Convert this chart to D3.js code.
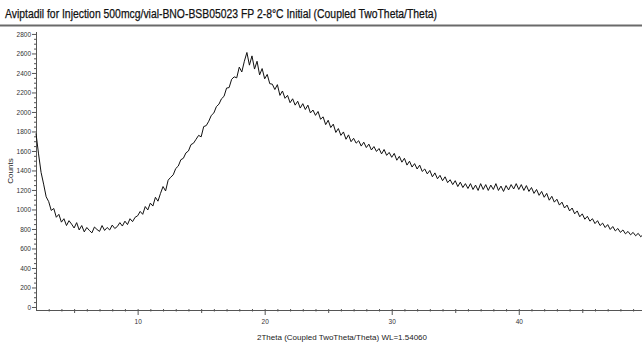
<!DOCTYPE html>
<html>
<head>
<meta charset="utf-8">
<script src="https://cdn.jsdelivr.net/npm/d3@7"></script>
<style>
  body { margin: 0; background: #fff; }
  svg { display: block; font-family: "Liberation Sans", Arial, sans-serif; }
</style>
</head>
<body>
<div id="chart"></div>
<script>
// scan settings (2theta, degrees)
const startAngle = 2.0;
const stepAngle = 0.2;

// counts, one every 0.2 deg from 2.0
const counts = [
  1780, 1570, 1380, 1260, 1130, 1080, 990, 1010, 920, 950,
  870, 905, 835, 885, 850, 810, 865, 790, 835, 770,
  815, 785, 760, 820, 795, 775, 835, 785, 815, 790,
  840, 805, 825, 865, 830, 880, 845, 905, 875, 920,
  935, 980, 950, 1030, 995, 1065, 1035, 1125, 1085, 1165,
  1235, 1190, 1300, 1330, 1355, 1420, 1445, 1510, 1525, 1580,
  1600, 1665, 1680, 1720, 1760, 1745, 1850, 1860, 1905, 1965,
  1990, 2055, 2080, 2135, 2160, 2245, 2250, 2335, 2360, 2350,
  2460, 2410, 2520, 2610, 2480, 2575, 2440, 2520, 2380, 2445,
  2340, 2385, 2290, 2285, 2230, 2280, 2170, 2215, 2140, 2170,
  2095, 2135, 2070, 2110, 2040, 2085, 2025, 2070, 1990, 2020,
  1965, 2005, 1925, 1950, 1870, 1915, 1840, 1875, 1790, 1830,
  1760, 1795, 1720, 1765, 1695, 1730, 1680, 1705, 1650, 1690,
  1635, 1670, 1610, 1645, 1595, 1625, 1570, 1615, 1555, 1585,
  1535, 1575, 1505, 1545, 1485, 1525, 1455, 1495, 1435, 1470,
  1415, 1455, 1390, 1415, 1365, 1400, 1335, 1375, 1315, 1350,
  1295, 1335, 1275, 1305, 1255, 1295, 1235, 1280, 1225, 1265,
  1215, 1265, 1205, 1250, 1195, 1265, 1205, 1255, 1195, 1250,
  1205, 1265, 1195, 1240, 1185, 1245, 1200, 1255, 1210, 1265,
  1205, 1255, 1195, 1245, 1185, 1225, 1165, 1205, 1145, 1185,
  1125, 1165, 1095, 1135, 1075, 1105, 1045, 1075, 1015, 1045,
  985, 1015, 955, 985, 925, 955, 900, 930, 880, 905,
  855, 885, 835, 860, 815, 845, 795, 825, 780, 805,
  765, 790, 750, 775, 740, 765, 730, 755, 720, 745,
  715
];

const xTickLabels = [10, 20, 30, 40];
const yTickLabels = [0, 200, 400, 600, 800, 1000, 1200, 1400, 1600, 1800, 2000, 2200, 2400, 2600, 2800];

const title = "Aviptadil for Injection 500mcg/vial-BNO-BSB05023 FP 2-8\u00B0C Initial (Coupled TwoTheta/Theta)";
const xTitle = "2Theta (Coupled TwoTheta/Theta) WL=1.54060";
const yTitle = "Counts";

const W = 642, H = 345;
const plot = { left: 36, right: 642, top: 32, bottom: 310 };

const svg = d3.select("#chart").append("svg")
    .attr("width", W)
    .attr("height", H);

// header
svg.append("text")
    .attr("x", 5)
    .attr("y", 18)
    .attr("font-size", 12.5)
    .attr("fill", "#111")
    .attr("stroke", "#111")
    .attr("stroke-width", 0.25)
    .attr("textLength", 432)
    .attr("lengthAdjust", "spacingAndGlyphs")
    .text(title);

svg.append("line")
    .attr("x1", 0).attr("x2", W)
    .attr("y1", 25.5).attr("y2", 25.5)
    .attr("stroke", "#6a6a6a")
    .attr("stroke-width", 1.8);

const x = d3.scaleLinear()
    .domain([startAngle, 49.7])
    .range([plot.left, plot.right]);

const y = d3.scaleLinear()
    .domain([-31, 2820])
    .range([plot.bottom, plot.top]);

// X axis - minor ticks every degree, medium every 5, labels every 10
const xAxisG = svg.append("g")
    .attr("transform", `translate(0, ${plot.bottom})`);
xAxisG.call(d3.axisBottom(x)
        .tickValues(d3.range(3, 50, 1))
        .tickSize(2)
        .tickFormat(""));
xAxisG.call(g => g.selectAll(".tick line")
    .attr("y1", -1)
    .attr("y2", d => d % 10 === 0 ? 5 : (d % 5 === 0 ? 3 : 1.5)));
xAxisG.select(".domain").attr("d", `M${plot.left},0.5H${plot.right}`);
xAxisG.selectAll("path, line").attr("stroke", "#555");

const xLabels = svg.append("g")
    .attr("transform", `translate(0, ${plot.bottom})`)
    .call(d3.axisBottom(x).tickValues(xTickLabels).tickSize(0).tickPadding(9).tickFormat(d3.format("d")));
xLabels.select(".domain").remove();
xLabels.selectAll("text").attr("font-size", 6.5).attr("fill", "#333").attr("font-family", "Liberation Sans, Arial");

// Y axis - minor ticks every 50, labels every 200
const yAxisG = svg.append("g")
    .attr("transform", `translate(${plot.left}, 0)`);
yAxisG.call(d3.axisLeft(y)
        .tickValues(d3.range(0, 2801, 50))
        .tickSize(2)
        .tickFormat(""));
yAxisG.call(g => g.selectAll(".tick line")
    .attr("x2", d => d % 200 === 0 ? -4 : -2));
yAxisG.select(".domain").attr("d", `M0.5,${plot.top}V${plot.bottom}`);
yAxisG.selectAll("path, line").attr("stroke", "#555");

const yLabels = svg.append("g")
    .attr("transform", `translate(${plot.left}, 0)`)
    .call(d3.axisLeft(y).tickValues(yTickLabels).tickSize(0).tickPadding(5).tickFormat(d3.format("d")));
yLabels.select(".domain").remove();
yLabels.selectAll("text").attr("font-size", 6.5).attr("fill", "#333").attr("font-family", "Liberation Sans, Arial");

// axis titles
svg.append("text")
    .attr("x", 342)
    .attr("y", 340)
    .attr("text-anchor", "middle")
    .attr("font-size", 8)
    .attr("fill", "#222")
    .text(xTitle);

svg.append("text")
    .attr("transform", "translate(13, 171) rotate(-90)")
    .attr("text-anchor", "middle")
    .attr("font-size", 8)
    .attr("fill", "#222")
    .text(yTitle);

// the scan
const line = d3.line()
    .x((d, i) => x(startAngle + i * stepAngle))
    .y(d => y(d));

svg.append("path")
    .datum(counts)
    .attr("fill", "none")
    .attr("stroke", "#111")
    .attr("stroke-width", 1)
    .attr("d", line);
</script>
</body>
</html>
